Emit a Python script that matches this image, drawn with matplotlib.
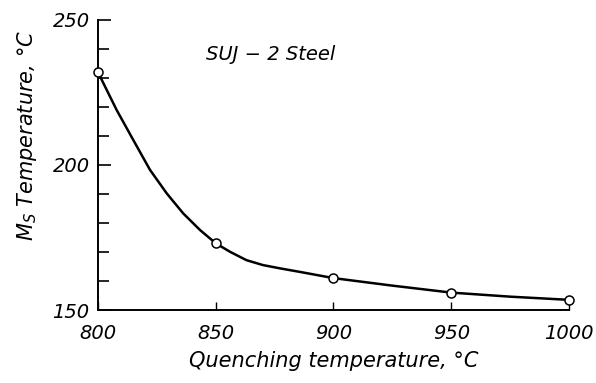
import matplotlib
matplotlib.use('Agg')
import matplotlib.pyplot as plt
from matplotlib.ticker import MultipleLocator

# measured points (open circles)
quench_temp = [800, 850, 900, 950, 1000]
ms_temp = [232, 173, 161, 156, 153.5]

# fitted curve
curve_x = [800, 802.3, 807.9, 815, 822.1, 829.2, 836.2, 843.3, 850, 856, 863, 870,
           877, 886, 900, 925, 950, 975, 1000]
curve_y = [232, 228.2, 219, 208.6, 198.3, 190.2, 183.3, 177.6, 173, 170.1, 167.2, 165.5,
           164.4, 163.1, 161, 158.4, 156, 154.6, 153.5]

x_ticks = [800, 850, 900, 950, 1000]
y_ticks = [150, 200, 250]

plt.rcParams['font.family'] = ['DejaVu Sans']
plt.rcParams['mathtext.fontset'] = 'dejavusans'

fig = plt.figure(figsize=(5.96, 3.83), dpi=100)
ax = fig.add_axes([0.1644, 0.1906, 0.7903, 0.7572])

ax.plot(curve_x, curve_y, color='black', lw=1.8, solid_capstyle='round',
        solid_joinstyle='round', zorder=2)
ax.plot(quench_temp, ms_temp, 'o', color='black', mfc='white', mec='black',
        ms=6.5, mew=1.1, zorder=3, clip_on=False)

ax.set_xlim(800, 1000)
ax.set_ylim(150, 250)
ax.spines['top'].set_visible(False)
ax.spines['right'].set_visible(False)
ax.spines['left'].set_linewidth(1.4)
ax.spines['bottom'].set_linewidth(1.4)

ax.set_yticks(y_ticks)
ax.yaxis.set_minor_locator(MultipleLocator(10))
ax.set_xticks(x_ticks)
ax.tick_params(axis='y', which='major', direction='in', length=9, width=1.2, pad=6)
ax.tick_params(axis='y', which='minor', direction='in', length=8, width=1.2)
ax.tick_params(axis='x', which='major', direction='in', length=6, width=1.0, pad=10)

for lab in ax.get_xticklabels() + ax.get_yticklabels():
    lab.set_fontstyle('italic')
    lab.set_fontsize(14)

ax.set_xlabel('Quenching temperature, °C', fontsize=15, style='italic', labelpad=6)
ax.set_ylabel(r'$M_S$ Temperature, °C', fontsize=15, style='italic', labelpad=12)
ax.yaxis.set_label_coords(-0.125, 0.60)

ax.text(0.23, 0.88, 'SUJ − 2 Steel', transform=ax.transAxes, fontsize=14,
        style='italic', ha='left', va='center')

plt.savefig('out.png', dpi=100)
print("Plot saved to out.png")
